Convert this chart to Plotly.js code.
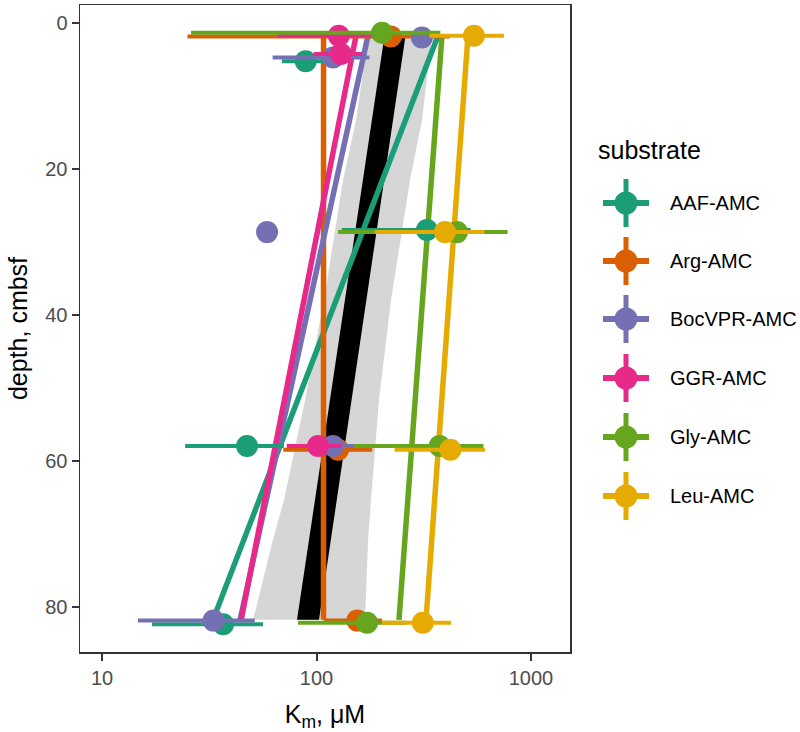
<!DOCTYPE html>
<html><head><meta charset="utf-8">
<script src="https://cdn.plot.ly/plotly-3.0.1.min.js"></script>
<style>html,body{margin:0;padding:0;background:#fff}</style>
</head><body><div id="chart" style="width:800px;height:732px"></div>
<script>
// ---------- data ----------
const substrates = ['AAF-AMC','Arg-AMC','BocVPR-AMC','GGR-AMC','Gly-AMC','Leu-AMC'];
const colors = ['#1B9E77','#D95F02','#7570B3','#E7298A','#66A61E','#E6AB02'];

// measured points (depth cmbsf, Km uM, SE uM)
const aafDepth = [5.3, 28.4, 58.0, 82.4];
const aafKm    = [89, 327, 47.4, 36.7];
const aafSE    = [20, 196, 23, 19.6];

const argDepth = [1.9, 58.5, 81.9];
const argKm    = [222, 126, 155];
const argSE    = [197, 56, 47];

const bocDepth = [2.05, 4.8, 28.7, 58.0, 81.9];
const bocKm    = [310, 119.4, 58.8, 119.4, 33.1];
const bocSE    = [30, 57, 0, 41, 18.4];

const ggrDepth = [1.8, 4.3, 58.0];
const ggrKm    = [127, 130, 101.6];
const ggrSE    = [61, 33, 29];

const glyDepth = [1.4, 28.7, 58.0, 82.2];
const glyKm    = [202, 452, 375, 172];
const glySE    = [176, 326, 225, 90];

const leuDepth = [1.8, 28.7, 58.5, 82.2];
const leuKm    = [542, 397, 421, 313];
const leuSE    = [206, 210, 190, 111];

// per-substrate fitted lines: Km at top and bottom depth
const fitDepth  = [1.8, 81.8];
const fitTopKm  = [368.5, 107.8, 173.8, 152.8, 384.6, 508.5];
const fitBotKm  = [32.9, 107.8, 44.0, 44.5, 242.4, 324];

// overall fit: grey (wide) band and black (narrow) band
const greyDepth = [1.8, 13.4, 21.6, 38.0, 51.7, 65.3, 70.8, 81.8];
const greyLow   = [173.8, 152.8, 132.9, 108.4, 88.4, 70.6, 62.7, 50.6];
const greyHigh  = [345.5, 310.2, 272.9, 222.5, 195.6, 179.5, 174, 168.3];

const blackDepth = [1.8, 81.8];
const blackLow   = [207.5, 81.1];
const blackHigh  = [260, 102.7];

const xTicks = [10, 100, 1000];
const xTickText = ['10', '100', '1000'];
const yTicks = [0, 20, 40, 60, 80];

// ---------- build ----------
const pts = [
  [aafDepth, aafKm, aafSE], [argDepth, argKm, argSE], [bocDepth, bocKm, bocSE],
  [ggrDepth, ggrKm, ggrSE], [glyDepth, glyKm, glySE], [leuDepth, leuKm, leuSE]
];

const traces = [];
function band(depth, lo, hi, color) {
  return {
    x: lo.concat(hi.slice().reverse()),
    y: depth.concat(depth.slice().reverse()),
    mode: 'lines', fill: 'toself', fillcolor: color,
    line: {width: 0, color: color}, hoverinfo: 'skip', showlegend: false
  };
}
traces.push(band(greyDepth, greyLow, greyHigh, '#D6D6D6'));
traces.push(band(blackDepth, blackLow, blackHigh, '#000000'));

substrates.forEach((s, i) => {
  traces.push({
    x: [fitTopKm[i], fitBotKm[i]], y: fitDepth, mode: 'lines',
    line: {color: colors[i], width: 5.5}, showlegend: false, hoverinfo: 'skip'
  });
});
substrates.forEach((s, i) => {
  traces.push({
    name: s, x: pts[i][1], y: pts[i][0], mode: 'markers',
    marker: {color: colors[i], size: 22, line: {width: 0}},
    error_x: {type: 'data', array: pts[i][2], symmetric: true, color: colors[i], thickness: 4, width: 0},
    showlegend: false
  });
});

// manual legend (ggplot-style keys)
const W = 490, H = 647, L = 80, T = 5;
const px = v => (v - L) / W;
const py = v => (T + H - v) / H;
const shapes = [], annotations = [];
const legendY = [203, 261, 319, 378, 437, 496];
annotations.push({xref:'paper', yref:'paper', x: px(596), y: py(150), xanchor:'left', yanchor:'middle',
  text:'substrate', showarrow:false, font:{size:25, color:'#000'}});
substrates.forEach((s, i) => {
  const cy = legendY[i], cx = 626;
  shapes.push({type:'line', xref:'paper', yref:'paper', x0:px(603), x1:px(649), y0:py(cy), y1:py(cy),
    line:{color:colors[i], width:6}});
  shapes.push({type:'line', xref:'paper', yref:'paper', x0:px(cx), x1:px(cx), y0:py(cy-24), y1:py(cy+24),
    line:{color:colors[i], width:5}});
  shapes.push({type:'circle', xref:'paper', yref:'paper', xsizemode:'pixel', ysizemode:'pixel',
    xanchor:px(cx), yanchor:py(cy), x0:-11.5, x1:11.5, y0:-11.5, y1:11.5,
    fillcolor:colors[i], line:{width:0}});
  annotations.push({xref:'paper', yref:'paper', x: px(668), y: py(cy), xanchor:'left', yanchor:'middle',
    text:s, showarrow:false, font:{size:20, color:'#000'}});
});

const layout = {
  width: 800, height: 732,
  margin: {l: 80, r: 230, t: 5, b: 80},
  paper_bgcolor: '#fff', plot_bgcolor: '#fff',
  font: {family: 'Liberation Sans, Arial, sans-serif', color: '#000'},
  showlegend: false,
  xaxis: {
    type: 'log', range: [0.897, 3.182], autorange: false,
    tickvals: xTicks, ticktext: xTickText,
    ticks: 'outside', ticklen: 7, tickwidth: 2, tickcolor: '#333',
    tickfont: {size: 20, color: '#4D4D4D'},
    showline: true, mirror: true, linecolor: '#333', linewidth: 1.5,
    showgrid: false, zeroline: false, automargin: false,
    title: {text: 'K<sub>m</sub>, μM', font: {size: 25, color: '#000'}, standoff: 18}
  },
  yaxis: {
    range: [86.2, -2.4], autorange: false,
    tickvals: yTicks,
    ticks: 'outside', ticklen: 7, tickwidth: 2, tickcolor: '#333',
    tickfont: {size: 20, color: '#4D4D4D'},
    showline: true, mirror: true, linecolor: '#333', linewidth: 1.5,
    showgrid: false, zeroline: false, automargin: false,
    title: {text: 'depth, cmbsf', font: {size: 25, color: '#000'}, standoff: 10}
  },
  shapes: shapes, annotations: annotations
};

Plotly.newPlot('chart', traces, layout, {staticPlot: true, displayModeBar: false});
</script></body></html>
